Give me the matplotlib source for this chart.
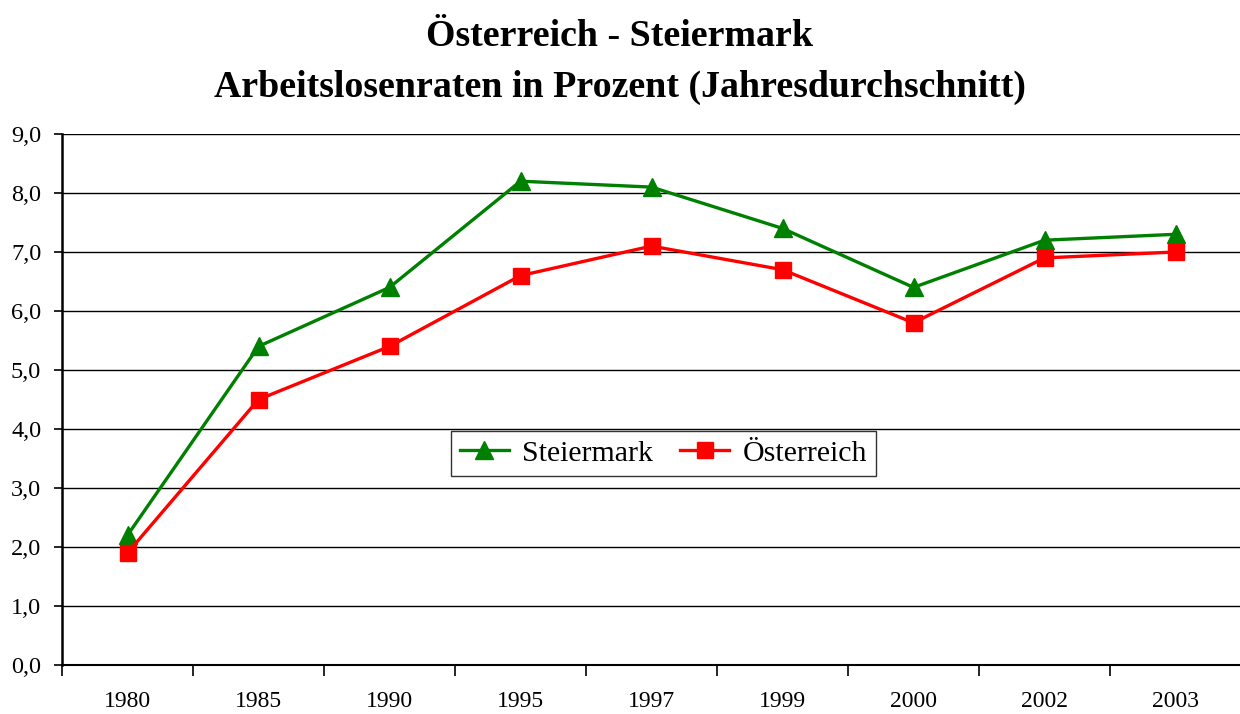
import matplotlib.pyplot as plt
import numpy as np

plt.rcParams['font.family'] = ['Liberation Serif', 'DejaVu Serif']

jahre = ['1980', '1985', '1990', '1995', '1997', '1999', '2000', '2002', '2003']
steiermark = [2.2, 5.4, 6.4, 8.2, 8.1, 7.4, 6.4, 7.2, 7.3]
oesterreich = [1.9, 4.5, 5.4, 6.6, 7.1, 6.7, 5.8, 6.9, 7.0]
y_ticks = [0, 1, 2, 3, 4, 5, 6, 7, 8, 9]

fig = plt.figure(figsize=(12.4, 7.14), dpi=100)
ax = fig.add_axes([62 / 1240, 1 - 665 / 714, 1179 / 1240, 531 / 714])

x = np.arange(len(jahre))
ax.plot(x, steiermark, color='#008000', lw=2.4, marker='^', ms=13, label='Steiermark', zorder=3)
ax.plot(x, oesterreich, color='#ff0000', lw=2.4, marker='s', ms=11, label='Österreich', zorder=3)

ax.set_xlim(-0.5, len(jahre) - 0.5)
ax.set_ylim(0, 9)
ax.set_yticks(y_ticks)
ax.set_yticklabels(['%d,0' % v for v in y_ticks], fontsize=17.5)
ax.yaxis.grid(True, color='black', lw=1)
ax.set_axisbelow(True)

ax.set_xticks(x)
ax.set_xticklabels(jahre, fontsize=17)
ax.set_xticks(np.arange(len(jahre) + 1) - 0.5, minor=True)
ax.tick_params(axis='x', which='major', length=0, pad=19)
ax.tick_params(axis='x', which='minor', length=8, width=1.2, direction='out')
ax.tick_params(axis='y', length=6, width=1.2, direction='out', pad=9)

for s in ['top', 'right']:
    ax.spines[s].set_visible(False)
ax.spines['left'].set_linewidth(1.8)
ax.spines['bottom'].set_linewidth(1.5)

leg = ax.legend(loc='center', bbox_to_anchor=(0.51, 0.399), ncol=2, fontsize=21.5,
                frameon=True, fancybox=False, edgecolor='black', handlelength=1.65,
                columnspacing=0.9, handletextpad=0.45, borderpad=0.3, borderaxespad=0)
leg.get_frame().set_linewidth(1.0)

fig.text(0.5, 1 - 37 / 714, 'Österreich - Steiermark', ha='center', va='center',
         fontsize=27.3, fontweight='bold')
fig.text(0.5, 1 - 87 / 714, 'Arbeitslosenraten in Prozent (Jahresdurchschnitt)', ha='center',
         va='center', fontsize=27.3, fontweight='bold')

fig.savefig('out.png', dpi=100)
